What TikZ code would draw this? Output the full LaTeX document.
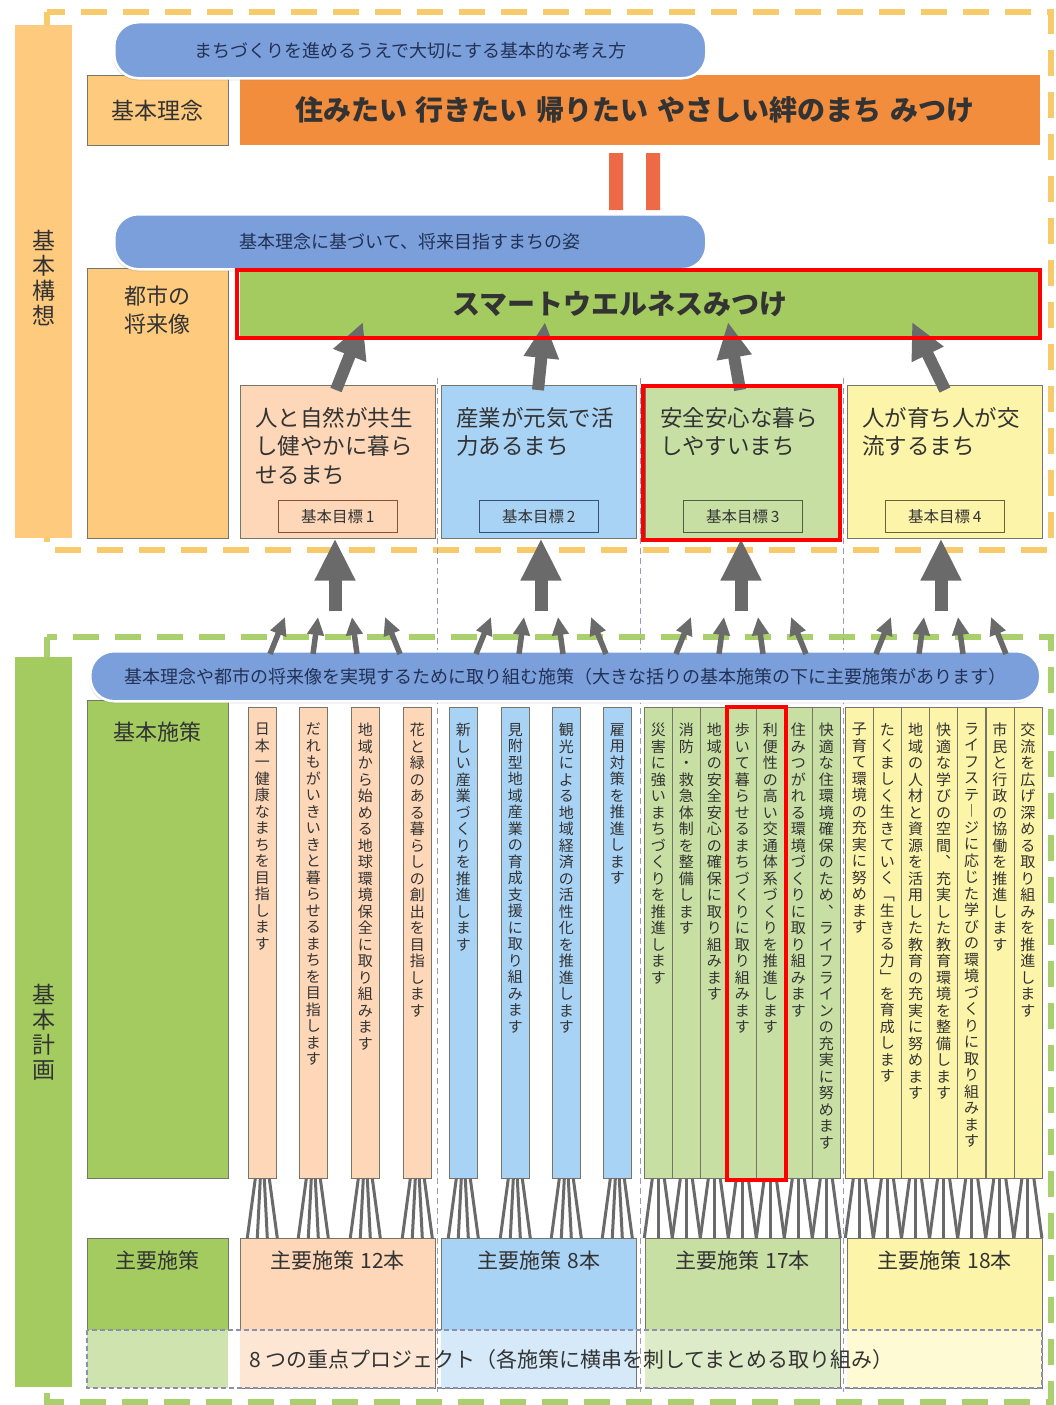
\documentclass[tikz,border=0pt]{standalone}
\usepackage{fontspec}
\setmainfont{Noto Sans CJK JP}
\usetikzlibrary{arrows.meta, calc, positioning, shadows}

\definecolor{lorange}{HTML}{FDCA7E}
\definecolor{dorange}{HTML}{F28D3E}
\definecolor{eqred}{HTML}{EE6946}
\definecolor{bannerblue}{HTML}{7B9FDA}
\definecolor{navy}{HTML}{223155}
\definecolor{wgreen}{HTML}{A3CB5F}
\definecolor{peach}{HTML}{FDD7B7}
\definecolor{skyblue}{HTML}{A9D3F5}
\definecolor{lgreen}{HTML}{C8DFA4}
\definecolor{lyellow}{HTML}{FCF4A8}
\definecolor{bandpeach}{HTML}{FDE7D4}
\definecolor{bandblue}{HTML}{D5E9F9}
\definecolor{bandgreen}{HTML}{DEEBC9}
\definecolor{bandyellow}{HTML}{FEFAD3}
\definecolor{bandleft}{HTML}{CFE3AE}
\definecolor{arrowgray}{HTML}{6A6A6A}
\definecolor{txtdark}{HTML}{333333}
\definecolor{linegray}{HTML}{75756A}
\definecolor{frameorange}{HTML}{F7CB6B}
\definecolor{framegreen}{HTML}{A9D06C}
\definecolor{sepgray}{HTML}{9A9CB2}
\definecolor{bandline}{HTML}{8C90AA}
\definecolor{tline1}{HTML}{80553A}
\definecolor{tline2}{HTML}{34507E}
\definecolor{tline3}{HTML}{4F5F3C}
\definecolor{tline4}{HTML}{6A6236}

% vertical (tategaki) stacking of characters
\newcommand\tate[1]{\expandafter\tateA#1\tateend}
\def\tateA#1{#1\tateB}
\def\tateB#1{\ifx#1\tateend\else\\#1\expandafter\tateB\fi}

\begin{document}
\begin{tikzpicture}[x=1pt, y=-1pt,
  box/.style={anchor=north west, inner sep=0pt, draw=linegray, line width=0.6pt},
  banner/.style={anchor=north west, inner sep=0pt, fill=bannerblue, draw=white, line width=2.5pt,
    rounded corners=24pt, text=navy, font=\fontsize{18}{20}\selectfont,
    drop shadow={shadow xshift=-1pt, shadow yshift=-2pt, opacity=0.25}},
  boxlabel/.style={inner sep=0pt, align=center, text=txtdark, font=\fontsize{22}{28}\selectfont},
  sidelabel/.style={inner sep=0pt, align=center, text=txtdark, font=\fontsize{23}{25}\selectfont},
  headline/.style={inner sep=0pt, text=txtdark, font=\fontsize{28}{30}\selectfont\bfseries},
  goaltext/.style={anchor=north west, inner sep=0pt, align=left, text=txtdark, font=\fontsize{22.5}{28.5}\selectfont},
  goaltag/.style={draw, line width=0.8pt, minimum width=119pt, minimum height=32pt, inner sep=0pt,
    text=txtdark, font=\fontsize{15.5}{17}\selectfont},
  colbox/.style={box, minimum width=28pt, minimum height=471pt},
  coltext/.style={anchor=north, inner sep=0pt, align=center, text=txtdark, font=\fontsize{15}{16.5}\selectfont},
  sumlabel/.style={inner sep=0pt, text=txtdark, font=\fontsize{21}{24}\selectfont},
  dashframe/.style={line width=6pt, dash pattern=on 26pt off 16pt},
  sepline/.style={draw=sepgray, line width=1.5pt, dash pattern=on 6pt off 4pt},
  bigarrow/.style={draw=arrowgray, line width=13pt, -{Triangle[width=38pt,length=42pt]}},
  slantarrow/.style={draw=arrowgray, line width=12pt, -{Triangle[width=33pt,length=36pt]}},
  smallarrow/.style={draw=arrowgray, line width=5.5pt, -{Triangle[width=16pt,length=18pt]}},
  fanline/.style={draw=arrowgray, line width=3pt},
  redframe/.style={draw=red, line width=4.5pt}]
\useasboundingbox (0,0) rectangle (1055,1405);
\fill[white] (0,0) rectangle (1055,1405);

% dashed frames
\draw[dashframe, frameorange] (47,12) rectangle (1051,550);
\draw[dashframe, framegreen] (47,637) rectangle (1051,1402);
\foreach \x in {437.5,640.5,843.5}
  \draw[sepline] (\x,378) -- (\x,1392);

% side bars
\node[box, draw=none, fill=lorange, minimum width=57pt, minimum height=513pt] (koso) at (15,25) {};
\node[sidelabel] (kosotext) at ([yshift=4pt]koso.center) {\tate{基本構想}};
\node[box, draw=none, fill=wgreen, minimum width=57pt, minimum height=730pt] (keikaku) at (15,657) {};
\node[sidelabel] (keikakutext) at ([yshift=-10pt]keikaku.center) {\tate{基本計画}};

% basic idea
\node[box, fill=lorange, minimum width=141pt, minimum height=70pt, font=\fontsize{23}{25}\selectfont, text=txtdark] (rinen) at (87,75) {基本理念};
\node[box, draw=none, fill=dorange, minimum width=800pt, minimum height=70pt] (rinenbar) at (240,75) {};
\node[headline] (rinentext) at (635,110) {住みたい\hspace{9pt}行きたい\hspace{9pt}帰りたい\hspace{9pt}やさしい絆のまち\hspace{9pt}みつけ};
\fill[eqred] (609,153) rectangle (623,210) (646,153) rectangle (660,210);

% future image
\node[box, fill=lorange, minimum width=141pt, minimum height=270pt] (toshi) at (87,268) {};
\node[boxlabel, below=18pt of toshi.north] (toshitext) {都市の\\将来像};
\node[box, draw=none, fill=wgreen, minimum width=800pt, minimum height=64pt] (vision) at (240,272) {};
\node[headline] (visiontext) at (620,304) {スマートウエルネスみつけ};

% goals
\foreach \x/\fillc/\linec/\txt [count=\i] in {
  240/peach/tline1/{人と自然が共生\\し健やかに暮ら\\せるまち},
  441/skyblue/tline2/{産業が元気で活\\力あるまち},
  645/lgreen/tline3/{安全安心な暮ら\\しやすいまち},
  847/lyellow/tline4/{人が育ち人が交\\流するまち}} {
  \node[box, fill=\fillc, minimum width=195pt, minimum height=153pt] (goal\i) at (\x,385) {};
  \node[goaltext] (aim\i) at ([shift={(15pt,-22pt)}]goal\i.north west) {\txt};
  \node[goaltag, draw=\linec, above=6pt of goal\i.south] (tag\i) {基本目標\,\i};
}

% banners
\node[banner, minimum width=592pt, minimum height=56pt] (ban1) at (113,21) {まちづくりを進めるうえで大切にする基本的な考え方};
\node[banner, minimum width=592pt, minimum height=55pt] (ban2) at (113,213) {基本理念に基づいて、将来目指すまちの姿};

% arrows goal -> vision
\foreach \i/\a/\b in {1/336/363, 2/538/545, 3/740/728, 4/945/912} {
  \coordinate (foot\i) at (\a,390);
  \coordinate (head\i) at (\b,322);
  \draw[slantarrow] (foot\i) -- (head\i);
}

% basic policies
\node[box, fill=wgreen, minimum width=141pt, minimum height=478pt] (sesaku) at (87,700) {};
\node[boxlabel, below=22pt of sesaku.north] (sesakutext) {基本施策};

\foreach \x/\txt [count=\i] in {248/日本一健康なまちを目指します, 299/だれもがいきいきと暮らせるまちを目指します,
  351/地域から始める地球環境保全に取り組みます, 403/花と緑のある暮らしの創出を目指します} {
  \node[colbox, fill=peach] (p\i) at (\x,707) {};
  \node[coltext] (pt\i) at ([yshift=-16pt]p\i.north) {\tate{\txt}};
}
\foreach \x/\txt [count=\i] in {449/新しい産業づくりを推進します, 501/見附型地域産業の育成支援に取り組みます,
  552/観光による地域経済の活性化を推進します, 603/雇用対策を推進します} {
  \node[colbox, fill=skyblue] (b\i) at (\x,707) {};
  \node[coltext] (bt\i) at ([yshift=-16pt]b\i.north) {\tate{\txt}};
}
\foreach \txt [count=\i] in {災害に強いまちづくりを推進します, 消防・救急体制を整備します,
  地域の安全安心の確保に取り組みます, 歩いて暮らせるまちづくりに取り組みます,
  利便性の高い交通体系づくりを推進します, 住みつがれる環境づくりに取り組みます,
  快適な住環境確保のため︑ライフラインの充実に努めます} {
  \node[colbox, fill=lgreen] (g\i) at ({644+28*(\i-1)},707) {};
  \node[coltext] (gt\i) at ([yshift=-16pt]g\i.north) {\tate{\txt}};
}
\foreach \txt [count=\i] in {子育て環境の充実に努めます, たくましく生きていく﹁生きる力﹂を育成します,
  地域の人材と資源を活用した教育の充実に努めます, 快適な学びの空間︑充実した教育環境を整備します,
  ライフステ︱ジに応じた学びの環境づくりに取り組みます, 市民と行政の協働を推進します,
  交流を広げ深める取り組みを推進します} {
  \node[colbox, fill=lyellow] (y\i) at ({845+28.1*(\i-1)},707) {};
  \node[coltext] (yt\i) at ([yshift=-16pt]y\i.north) {\tate{\txt}};
}

\node[banner, minimum width=950pt, minimum height=50pt] (ban3) at (89,650) {基本理念や都市の将来像を実現するために取り組む施策（大きな括りの基本施策の下に主要施策があります）};

% arrows policies -> goals
\foreach \c in {335,541,741,941}
  \foreach \a/\b [count=\k] in {-65/-50,-22/-17,22/17,65/50} {
    \coordinate (low\k) at ({\c+\a},654);
    \coordinate (high\k) at ({\c+\b},617);
    \draw[smallarrow] (low\k) -- (high\k);
  }
\foreach \i/\x in {1/335,2/541,3/741,4/941} {
  \coordinate (up\i) at (\x,611);
  \draw[bigarrow] (up\i) -- (up\i |- goal\i.south);
}

% main policies
\node[box, fill=wgreen, minimum width=141pt, minimum height=92pt] (shuyo) at (87,1238) {};
\node[sumlabel, below=13pt of shuyo.north] (shuyotext) {主要施策};
\foreach \x/\fillc/\bandc/\n [count=\i] in {240/peach/bandpeach/12, 441/skyblue/bandblue/8,
  645/lgreen/bandgreen/17, 847/lyellow/bandyellow/18} {
  \node[box, fill=\fillc, minimum width=195pt, minimum height=150pt] (m\i) at (\x,1238) {};
  \fill[\bandc] ([shift={(0.4pt,-92pt)}]m\i.north west) rectangle ([shift={(-0.4pt,0.4pt)}]m\i.south east);
  \node[sumlabel, below=13pt of m\i.north] (mt\i) {主要施策\hspace{6pt}\n 本};
}
\fill[bandleft] (87,1330) rectangle (228,1388);
\draw[draw=bandline, line width=2.5pt, dash pattern=on 5pt off 3pt] (87,1330) rectangle (1042,1388);
\node[sumlabel, anchor=west] (project) at (249,1360) {8 つの重点プロジェクト（各施策に横串を刺してまとめる取り組み）};

% fan lines
\foreach \i in {1,...,4} {
  \foreach \s/\e in {-7/-15,-2/-5,2/5,7/15} {
    \draw[fanline] ($(p\i.south)+(\s,0)$) -- ($(p\i.south |- m1.north)+(\e,0)$);
    \draw[fanline] ($(b\i.south)+(\s,0)$) -- ($(b\i.south |- m2.north)+(\e,0)$);
  }
}
\foreach \i in {1,...,7} {
  \foreach \s/\e in {-6/-14,0/0,6/14} {
    \draw[fanline] ($(g\i.south)+(\s,0)$) -- ($(g\i.south |- m3.north)+(\e,0)$);
    \draw[fanline] ($(y\i.south)+(\s,0)$) -- ($(y\i.south |- m4.north)+(\e,0)$);
  }
}

% highlight frames
\draw[redframe] (237,270) rectangle (1040,338);
\draw[redframe] (643,386) rectangle (840,540);
\draw[redframe] (727,707) rectangle (786,1180);
\end{tikzpicture}
\end{document}
